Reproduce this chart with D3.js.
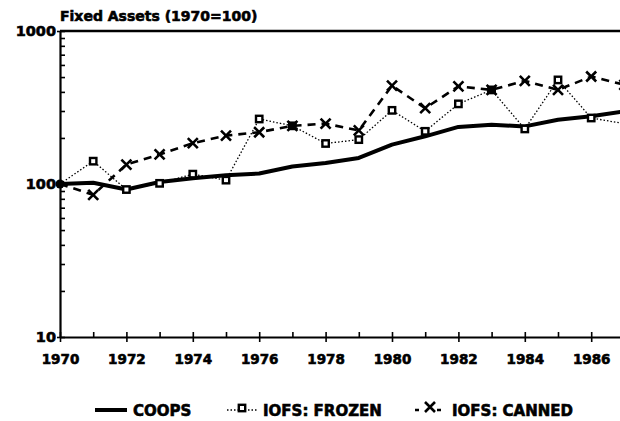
<!DOCTYPE html>
<html><head><meta charset="utf-8">
<script src="https://cdn.jsdelivr.net/npm/d3@7/dist/d3.min.js"></script>
<style>
html,body{margin:0;padding:0;background:#fff;}
svg{display:block;font-family:"DejaVu Sans",sans-serif;font-weight:bold;}
svg text{stroke:#000;stroke-width:0.6px;paint-order:stroke;}
</style></head>
<body><svg id="c" width="620" height="421"></svg>
<script>
const years = [1970,1971,1972,1973,1974,1975,1976,1977,1978,1979,1980,1981,1982,1983,1984,1985,1986,1987];
const coops = [100,102,92,103,109,114,117,130,137,148,181,205,236,244,238,263,277,298];
const frozen = [100,141,92,101,116,106,266,240,184,195,303,221,334,412,229,479,270,248];
const canned = [100,85,134,156,185,207,218,240,248,224,439,313,435,412,472,412,504,445];
const yTickValues = [10,20,30,40,50,60,70,80,90,100,200,300,400,500,600,700,800,900,1000];
const yLabels = [10,100,1000];
const titleText = "Fixed Assets (1970=100)";
const legendNames = ["COOPS","IOFS: FROZEN","IOFS: CANNED"];

const svg = d3.select("#c");
const x = d3.scaleLinear().domain([1970,1987]).range([60, 60 + 17*33.2]);
const y = d3.scaleLog().domain([10,1000]).range([337, 31]);

// title
svg.append("text").attr("x",60).attr("y",21).attr("font-size",14).text(titleText);

// top border
svg.append("line").attr("x1",x(1970)).attr("x2",620).attr("y1",y(1000)).attr("y2",y(1000))
  .attr("stroke","#000").attr("stroke-width",2.5);

// x axis
const xa = svg.append("g").attr("transform",`translate(0,${y(10)})`)
  .call(d3.axisBottom(x).tickValues(years).tickSizeInner(-5).tickSizeOuter(0)
    .tickFormat(d => d % 2 === 0 ? String(d) : ""));
xa.select(".domain").attr("stroke-width",2.2);
xa.selectAll(".tick line").attr("stroke-width",1.6)
  .attr("y1", d => d % 2 === 0 ? 5 : 0);
xa.selectAll(".tick text").attr("y",27).attr("dy",0).attr("font-size",13.5)
  .attr("font-family","DejaVu Sans").attr("font-weight","bold").attr("fill","#000");

// y axis
const ya = svg.append("g").attr("transform",`translate(${x(1970)},0)`)
  .call(d3.axisLeft(y).tickValues(yTickValues).tickSizeInner(-5).tickSizeOuter(0)
    .tickFormat(d => yLabels.includes(d) ? String(d) : ""));
ya.select(".domain").attr("stroke-width",2.2);
ya.selectAll(".tick line").attr("stroke-width",1.6)
  .attr("x1", d => yLabels.includes(d) ? -3 : 0);
ya.selectAll(".tick text").attr("x",-4).attr("font-size",14.5)
  .attr("font-family","DejaVu Sans").attr("font-weight","bold").attr("fill","#000");

svg.append("defs").append("clipPath").attr("id","pc")
  .append("rect").attr("x",0).attr("y",0).attr("width",620).attr("height",421);

const line = d3.line().x((d,i)=>x(years[i])).y(d=>y(d));
const g = svg.append("g").attr("clip-path","url(#pc)");

// frozen (dotted)
g.append("path").datum(frozen).attr("d",line).attr("fill","none").attr("stroke","#000")
  .attr("stroke-width",1.3).attr("stroke-dasharray","1.5,2");
// canned (dashed)
g.append("path").datum(canned).attr("d",line).attr("fill","none").attr("stroke","#000")
  .attr("stroke-width",2.6).attr("stroke-dasharray","8,6");
// coops (thick)
g.append("path").datum(coops).attr("d",line).attr("fill","none").attr("stroke","#000")
  .attr("stroke-width",4).attr("stroke-linejoin","round");

function square(sel, cx, cy, filled){
  sel.append("rect").attr("x",cx-3.2).attr("y",cy-3.2).attr("width",6.4).attr("height",6.4)
    .attr("fill",filled ? "#000" : "#fff").attr("stroke","#000").attr("stroke-width",2.4);
}
function cross(sel, cx, cy){
  const s=5;
  sel.append("path").attr("d",`M${cx-s},${cy-s}L${cx+s},${cy+s}M${cx-s},${cy+s}L${cx+s},${cy-s}`)
    .attr("stroke","#000").attr("stroke-width",2.6).attr("fill","none");
}
canned.forEach((v,i)=>{ if(i>0) cross(g, x(years[i]), y(v)); });
frozen.forEach((v,i)=>{ if(i>0) square(g, x(years[i]), y(v), v === canned[i]); });
// origin point where all series meet
g.append("circle").attr("cx",x(1970)).attr("cy",y(100)).attr("r",4.5).attr("fill","#000");

// legend
const ly = 410, lt = 416;
const lg = svg.append("g").attr("font-size",15);
lg.append("line").attr("x1",95).attr("x2",127).attr("y1",ly).attr("y2",ly)
  .attr("stroke","#000").attr("stroke-width",4);
lg.append("text").attr("x",133).attr("y",lt).text(legendNames[0]);
lg.append("line").attr("x1",227).attr("x2",258).attr("y1",ly).attr("y2",ly)
  .attr("stroke","#000").attr("stroke-width",1.3).attr("stroke-dasharray","1.5,2");
square(lg, 242, ly-2, false);
lg.append("text").attr("x",263).attr("y",lt).text(legendNames[1]);
lg.append("line").attr("x1",415).attr("x2",445).attr("y1",ly).attr("y2",ly)
  .attr("stroke","#000").attr("stroke-width",2.6).attr("stroke-dasharray","4,18");
cross(lg, 430, ly-3);
lg.append("text").attr("x",452).attr("y",lt).text(legendNames[2]);
</script></body></html>
